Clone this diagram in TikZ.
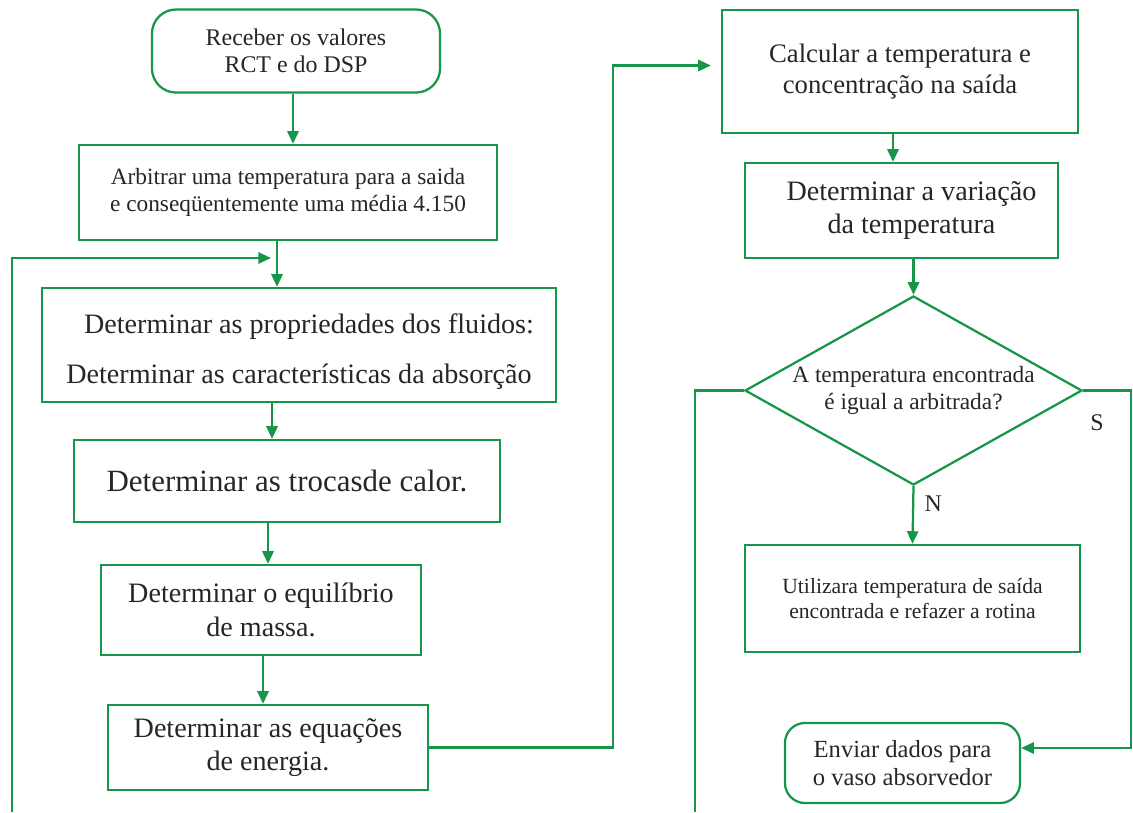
\documentclass[tikz,border=0pt]{standalone}
\usepackage{fontspec}
\setmainfont{Liberation Serif}
\usetikzlibrary{positioning, arrows.meta, shapes.geometric}
\definecolor{flowgreen}{RGB}{22,150,72}

\begin{document}
\begin{tikzpicture}[x=0.025cm, y=-0.025cm, line width=1.6pt,
  >={Triangle[length=9pt, width=8pt]},
  main/.style = {draw=flowgreen, text=black!85, align=center, inner sep=2pt},
  big/.style = {main, font=\fontsize{#1}{\fpeval{1.18*#1}}\selectfont},
  big/.default = 20,
  small/.style = {main, font=\fontsize{#1}{\fpeval{1.14*#1}}\selectfont},
  small/.default = 16.6,
  link/.style = {draw=flowgreen, ->},
  wire/.style = {draw=flowgreen},
  lab/.style = {text=black!85, font=\fontsize{17}{20}\selectfont}]
\useasboundingbox (0,0) rectangle (1133,812);

% left column
\node[small=17, rounded corners=0.6cm, minimum width=7.2cm, minimum height=2.075cm] (recv) at (296,51) {Receber os valores\\RCT e do DSP};
\node[small, minimum width=10.45cm, minimum height=2.375cm] (arb) at (288,192.5) {Arbitrar uma temperatura para a saida\\e conseqüentemente uma média 4.150};
\node[big, minimum width=12.85cm, minimum height=2.85cm] (prop) at (299,345) {\rule{0pt}{24pt}\hspace*{0.5cm}Determinar as propriedades dos fluidos:\\[12pt]Determinar as características da absorção};
\node[big=22, minimum width=10.65cm, minimum height=2.05cm] (troca) at (287,481) {Determinar as trocasde calor.};
\node[big, minimum width=8cm, minimum height=2.25cm] (massa) at (261,610) {Determinar o equilíbrio\\de massa.};
\node[big, minimum width=8cm, minimum height=2.125cm] (energ) at (268,747.5) {Determinar as equações\\de energia.};

% right column
\node[big=19, minimum width=8.9cm, minimum height=3.075cm] (calc) at (900,71.5) {Calcular a temperatura e\\concentração na saída};
\node[big, minimum width=7.825cm, minimum height=2.375cm] (varia) at (901.5,210.5) {\hspace*{0.5cm}Determinar a variação\\\hspace*{0.5cm}da temperatura};
\node[small, diamond, aspect=1.78, inner sep=0pt, minimum width=8.425cm, minimum height=4.725cm] (teste) at (913.5,390.5) {A temperatura encontrada\\é igual a arbitrada?};
\node[small=15.4, minimum width=8.375cm, minimum height=2.675cm] (refaz) at (912.5,598.5) {Utilizara temperatura de saída\\encontrada e refazer a rotina};
\node[small=17.5, rounded corners=0.5cm, minimum width=5.875cm, minimum height=2cm] (envia) at (902.5,763) {Enviar dados para\\o vaso absorvedor};
\node[lab] (sim) at (1097,423) {S};

\coordinate (retorno) at (12,812);
\coordinate (juncao) at (271,258);
\coordinate (desvio) at (695,812);
\coordinate (borda) at (1131,748);

\draw[link] (recv.south -| 293,0) -- (arb.north -| 293,0);
\draw[link] (arb.south -| 277,0) -- (prop.north -| 277,0);
\draw[link] (prop.south -| 272,0) -- (troca.north -| 272,0);
\draw[link] (troca.south -| 268,0) -- (massa.north -| 268,0);
\draw[link] (massa.south -| 263,0) -- (energ.north -| 263,0);
\draw[link] (retorno) |- (juncao);
\draw[link] (energ.east) -- ++(184,0) |- ([xshift=-0.25cm, yshift=0.15cm]calc.west);
\draw[link] (calc.south -| 893,0) -- (varia.north -| 893,0);
\draw[link] (varia.south -| teste.north) -- (teste.north);
\draw[link] (teste.south) -- node[lab, right, pos=0.3, xshift=4pt] {N} (refaz.north);
\draw[wire] (teste.west) -| (desvio);
\draw[link] (teste.east) -| (borda) -- (envia.east |- borda);
\end{tikzpicture}
\end{document}
